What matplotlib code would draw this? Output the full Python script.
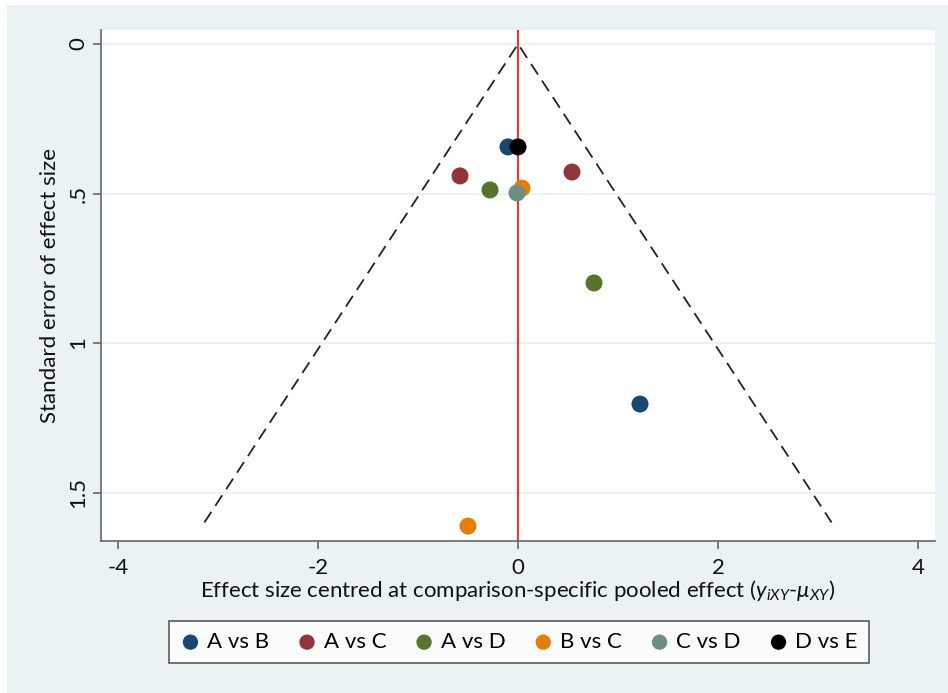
import matplotlib
matplotlib.use("Agg")
import matplotlib.pyplot as plt
from matplotlib.patches import Rectangle

plt.rcParams['font.family'] = ['Lato', 'DejaVu Sans']
plt.rcParams['mathtext.fontset'] = 'custom'
plt.rcParams['mathtext.it'] = 'Lato:italic'
plt.rcParams['mathtext.rm'] = 'Lato'

comparisons = ["A vs B", "A vs C", "A vs D", "B vs C", "C vs D", "D vs E"]
colors = ["#1a476f", "#90353b", "#55752f", "#e37e00", "#6e8e84", "#000000"]
effect = {
    "A vs B": [-0.10, 1.22],
    "A vs C": [-0.58, 0.54],
    "A vs D": [-0.28, 0.76],
    "B vs C": [0.04, -0.50],
    "C vs D": [-0.01],
    "D vs E": [0.00],
}
se = {
    "A vs B": [0.344, 1.204],
    "A vs C": [0.441, 0.428],
    "A vs D": [0.488, 0.799],
    "B vs C": [0.482, 1.612],
    "C vs D": [0.498],
    "D vs E": [0.344],
}
se_max = 1.6
z = 1.96
xticks = [-4, -2, 0, 2, 4]
yticks = [0, 0.5, 1, 1.5]
ytick_labels = ["0", ".5", "1", "1.5"]

fig = plt.figure(figsize=(9.48, 6.93), dpi=100)
fig.patch.set_facecolor("white")
fig.patches.append(Rectangle((7/948, 0), 1 - 7/948, 1 - 5/693, transform=fig.transFigure,
                             facecolor="#eaf2f3", edgecolor="none", zorder=-10))

ax = fig.add_axes([101/948, 1 - 541/693, (935 - 101)/948, (541 - 30)/693])
ax.set_facecolor("white")

for t in yticks:
    ax.axhline(t, color="#eaf2f3", lw=1.5, zorder=0)

ax.plot([-z * se_max, 0, z * se_max], [se_max, 0, se_max], ls=(0, (7, 4)), color="#222222", lw=1.3, zorder=1)
ax.axvline(0, color="#ff3030", lw=1.5, zorder=2)

for c, col in zip(comparisons, colors):
    ax.scatter(effect[c], se[c], s=150, color=col, label=c, zorder=3, edgecolors="none")

ax.set_xlim(-4.17, 4.17)
ax.set_ylim(1.662, -0.047)
ax.set_xticks(xticks)
ax.set_xticklabels([str(t) for t in xticks])
ax.set_yticks(yticks)
ax.set_yticklabels(ytick_labels, rotation=90, va="center")

for s in ["top", "right"]:
    ax.spines[s].set_visible(False)
for s in ["left", "bottom"]:
    ax.spines[s].set_color("#666666")
    ax.spines[s].set_linewidth(1.2)
ax.tick_params(axis="both", colors="#666666", labelcolor="#111111", length=6, width=1.2, labelsize=16)
ax.tick_params(axis="x", pad=6)
ax.tick_params(axis="y", pad=3)

ax.set_ylabel("Standard error of effect size", fontsize=16, color="#111111", labelpad=6)
ax.set_xlabel(r"Effect size centred at comparison-specific pooled effect ($y_{iXY}$-$\mu_{XY}$)",
              fontsize=16, color="#111111", labelpad=0)

leg = fig.legend(loc="center", bbox_to_anchor=(519/948, 1 - 642/693), ncol=6, frameon=True,
                 fancybox=False, edgecolor="#333333", fontsize=16, handletextpad=0.3,
                 columnspacing=1.25, borderpad=0.5, handlelength=0.9, markerscale=0.9)
leg.get_frame().set_linewidth(1.2)

fig.savefig("out.png", dpi=100, facecolor=fig.get_facecolor())
